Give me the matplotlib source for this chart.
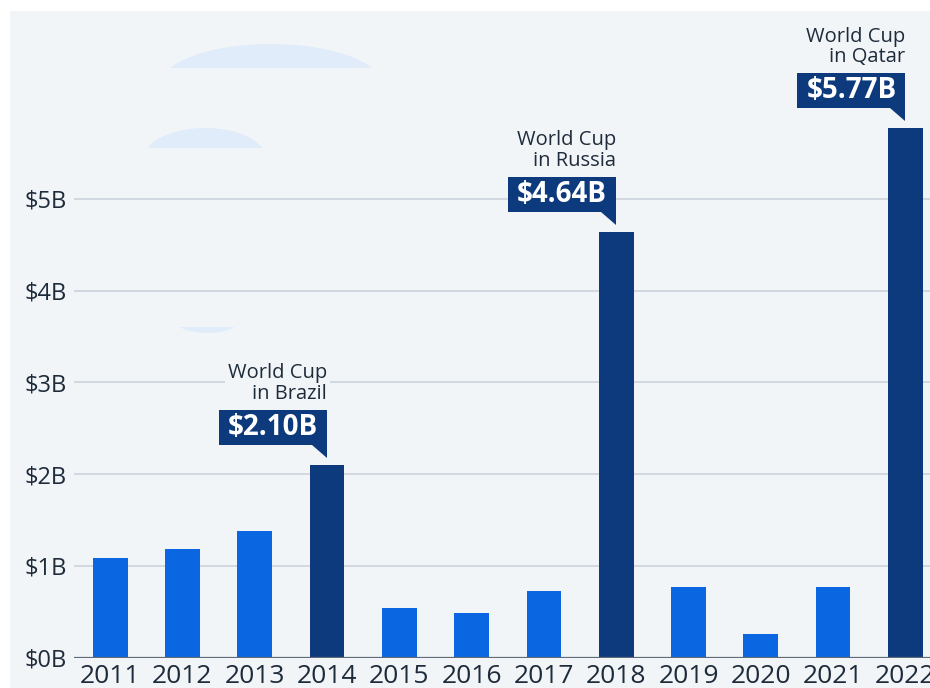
import matplotlib
matplotlib.use("Agg")
import matplotlib.pyplot as plt
from matplotlib.patches import Rectangle, Ellipse, Polygon

plt.rcParams["font.family"] = ["Open Sans", "DejaVu Sans"]

years = ["2011", "2012", "2013", "2014", "2015", "2016",
         "2017", "2018", "2019", "2020", "2021", "2022"]
revenue_b = [1.08, 1.18, 1.38, 2.10, 0.54, 0.49, 0.73, 4.64, 0.77, 0.26, 0.77, 5.77]
world_cup = {3: "World Cup\nin Brazil", 7: "World Cup\nin Russia", 11: "World Cup\nin Qatar"}
ytick_vals = [0, 1, 2, 3, 4, 5]
ytick_labels = ["$0B", "$1B", "$2B", "$3B", "$4B", "$5B"]

BG = "#f2f5f8"
BLUE = "#0a66e1"
NAVY = "#0d3a7d"
TXT = "#1e2b3a"

W, H = 930, 688
fig = plt.figure(figsize=(W / 100, H / 100), dpi=100)
fig.patch.set_facecolor("white")

# background panel + faint decorative shapes, in pixel coords
bg = fig.add_axes([0, 0, 1, 1], zorder=0)
bg.set_xlim(0, W); bg.set_ylim(H, 0); bg.axis("off")
bg.add_patch(Rectangle((10, 11), W, H, color=BG, lw=0))
for (cx, cy, ew, eh, clip) in [(271, 84, 220, 80, (0, 0, W, 68)),
                                (205, 158, 122, 60, (0, 0, W, 148)),
                                (207, 318, 68, 30, (0, 327, W, 40))]:
    e = Ellipse((cx, cy), ew, eh, color="#e1ecfa", lw=0)
    bg.add_patch(e)
    r = Rectangle(clip[:2], clip[2], clip[3], transform=bg.transData)
    e.set_clip_path(r)

ax = fig.add_axes([74 / W, (H - 657.5) / H, (W - 74) / W, (657.5 - 11) / H], zorder=1)
ax.set_facecolor("none")
x = list(range(len(years)))
colors = [NAVY if i in world_cup else BLUE for i in x]
ax.bar(x, revenue_b, width=0.48, color=colors, zorder=2)

ax.set_xlim(-0.5, 11.34)
ax.set_ylim(0, 7.05)
ax.set_yticks(ytick_vals)
ax.set_yticklabels(ytick_labels)
ax.set_xticks(x)
ax.set_xticklabels(years)
ax.tick_params(axis="y", length=0, pad=5, labelsize=17, labelcolor=TXT)
ax.tick_params(axis="x", length=0, pad=5, labelsize=19, labelcolor=TXT)
for v in ytick_vals[1:]:
    ax.axhline(v, color="#c9d0d8", lw=1.1, zorder=1)
ax.axhline(0, color="#5f6b78", lw=1.6, zorder=3)
for s in ax.spines.values():
    s.set_visible(False)

# World Cup callouts
ppb = (657.5 - 11) / 7.05  # pixels per billion
for i, label in world_cup.items():
    v = revenue_b[i]
    tip = v + 7 / ppb
    box_bot = v + 20 / ppb
    box_h = 35 / ppb
    box_w = 108 / 72.3
    ax.add_patch(Rectangle((i - box_w, box_bot), box_w, box_h, color=NAVY, lw=0, zorder=4))
    ax.add_patch(Polygon([(i - 15 / 72.3, box_bot), (i, box_bot), (i, tip)],
                         closed=True, color=NAVY, lw=0, zorder=4))
    ax.text(i - box_w / 2, box_bot + box_h / 2, f"${v:.2f}B", color="white",
            fontsize=20, fontweight="bold", ha="center", va="center", zorder=5)
    ax.text(i, box_bot + box_h + 6 / ppb, label, color=TXT, fontsize=14.5,
            ha="right", va="bottom", linespacing=1.05, zorder=5,
            bbox=dict(facecolor=BG, edgecolor="none", pad=2))

fig.savefig("out.png", dpi=100)
